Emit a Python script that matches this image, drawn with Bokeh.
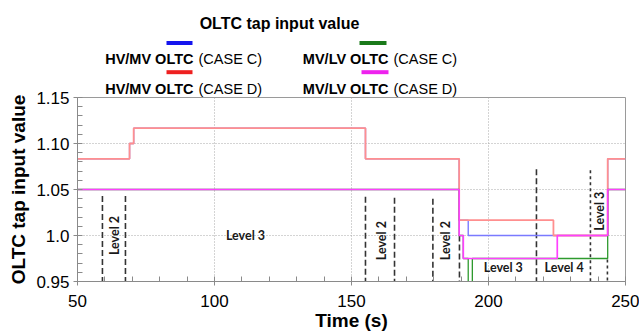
from math import pi
from bokeh.plotting import figure
from bokeh.models import Range1d, FixedTicker
from bokeh.core.properties import value
from bokeh.embed import file_html
from bokeh.resources import INLINE

# ---------------- data ----------------
hvmv_c_t = [50, 69.0, 70.5, 155.1, 189.3, 192.6, 243.5, 250]
hvmv_c_v = [1.0833, 1.1, 1.1167, 1.0833, 1.0167, 1.0, 1.0833, 1.0833]
hvmv_d_t = [50, 69.0, 70.5, 155.1, 189.3, 223.7, 243.5, 250]
hvmv_d_v = [1.0833, 1.1, 1.1167, 1.0833, 1.0167, 1.0, 1.0833, 1.0833]
mvlv_c_t = [50, 189.3, 190.8, 192.6, 194.1, 243.5, 250]
mvlv_c_v = [1.05, 1.0, 0.975, 0.9333, 0.975, 1.05, 1.05]
mvlv_d_t = [50, 189.3, 190.8, 225.1, 243.5, 250]
mvlv_d_v = [1.05, 1.0, 0.975, 1.0, 1.05, 1.05]

level_long_x = [59.1, 67.5, 155.1, 165.7, 179.7, 189.4, 217.5]
level_long_top = [1.043, 1.043, 1.042, 1.041, 1.040, 1.0, 1.072]
level_short_x = [237.2, 243.4]
level_short_top = [1.071, 0.974]

level_text = ["Level 2", "Level 3", "Level 2", "Level 2", "Level 3", "Level 4", "Level 3"]
level_tx = [63.5, 111.3, 160.8, 184.4, 205.4, 227.6, 240.6]
level_ty = [1.0, 1.0, 0.9944, 0.9944, 0.9655, 0.9655, 1.0264]
level_rot = [90, 0, 90, 90, 0, 0, 90]

x_ticks = [50, 100, 150, 200, 250]
x_minor = [50 + 10 * i for i in range(21)]
y_ticks = [0.95, 1.0, 1.05, 1.1, 1.15]
y_tick_labels = ["0.95", "1.0", "1.05", "1.10", "1.15"]
y_minor = [round(0.95 + 0.01 * i, 2) for i in range(21)]

legend_bold = ["HV/MV OLTC", "HV/MV OLTC", "MV/LV OLTC", "MV/LV OLTC"]
legend_case = ["(CASE C)", "(CASE D)", "(CASE C)", "(CASE D)"]
legend_colors = ["#1515ee", "#ee2020", "#1a7a1a", "#ee22ee"]

title_text = "OLTC tap input value"

# ---------------- layout geometry (pixels) ----------------
W, H = 639, 333
FL, FR, FT, FB = 77, 625, 97, 286
X0, X1, Y0, Y1 = 50, 250, 0.95, 1.15


def sx(px):
    return X0 + (px - FL) * (X1 - X0) / (FR - FL)


def sy(py):
    return Y1 - (py - FT) * (Y1 - Y0) / (FB - FT)


FONT = "Liberation Sans"

p = figure(width=W, height=H, x_range=Range1d(X0, X1), y_range=Range1d(Y0, Y1),
           output_backend="svg", toolbar_location=None,
           min_border_left=FL, min_border_right=W - FR,
           min_border_top=FT, min_border_bottom=H - FB)
p.background_fill_color = "white"
p.border_fill_color = "white"
p.outline_line_color = "#9a9a9a"
p.outline_line_width = 1

# axes
for ax in (p.xaxis[0], p.yaxis[0]):
    ax.axis_line_color = "#8a8a8a"
    ax.major_tick_line_color = "#8a8a8a"
    ax.minor_tick_line_color = "#8a8a8a"
    ax.major_tick_in = 0
    ax.major_tick_out = 4
    ax.minor_tick_in = 5
    ax.minor_tick_out = 0
    ax.major_label_text_font = FONT
    ax.major_label_text_font_size = "17px"
    ax.major_label_text_color = "black"
    ax.axis_label_text_font = FONT
    ax.axis_label_text_font_style = "bold"
    ax.axis_label_text_font_size = "19px"
    ax.axis_label_text_color = "black"

p.xaxis.ticker = FixedTicker(ticks=x_ticks, minor_ticks=x_minor)
p.yaxis.ticker = FixedTicker(ticks=y_ticks, minor_ticks=y_minor)
p.yaxis.major_label_overrides = {t: l for t, l in zip(y_ticks, y_tick_labels)}
p.xaxis.axis_label = "Time (s)"
p.yaxis.axis_label = "OLTC tap input value"
p.xaxis.major_label_standoff = 9
p.yaxis.major_label_standoff = 4
p.xaxis.axis_label_standoff = 0
p.yaxis.axis_label_standoff = 4

for g in (p.xgrid[0], p.ygrid[0]):
    g.grid_line_color = "#a8a8a8"
    g.grid_line_dash = "1 2"
    g.grid_line_width = 1

# level markers
p.segment(x0=level_long_x, y0=level_long_top, x1=level_long_x,
          y1=[Y0] * len(level_long_x), line_color="#333333",
          line_width=1.6, line_dash="6 3")
p.segment(x0=level_short_x, y0=level_short_top, x1=level_short_x,
          y1=[Y0] * len(level_short_x), line_color="#333333",
          line_width=1.6, line_dash="3 3")

# series
p.step(hvmv_c_t, hvmv_c_v, mode="after", line_color="#7a7aff", line_width=1.4)
p.step(hvmv_d_t, hvmv_d_v, mode="after", line_color="#ff8f8f", line_width=1.8)
p.step(mvlv_c_t, mvlv_c_v, mode="after", line_color="#2e9a2e", line_width=1.3)
p.step(mvlv_d_t, mvlv_d_v, mode="after", line_color="#ff40ff", line_width=1.7)

# level labels
p.text(x=level_tx, y=level_ty, text=level_text,
       angle=[a * pi / 180 for a in level_rot],
       text_font=value("Lato"), text_font_style="bold", text_font_size="12.5px",
       text_color="#1a1a1a", text_align="center", text_baseline="middle")

# header: title and legend (drawn outside the frame at overlay level)
p.text(x=[sx(279)], y=[sy(21)], text=[title_text], text_align="center",
       text_baseline="middle", text_font=value(FONT), text_font_style="bold",
       text_font_size="16px", text_color="black", level="overlay")

col_bold_right = [193, 193, 388, 388]
col_case_left = [198, 198, 393, 393]
row_y = [57.5, 88, 57.5, 88]
bar_x0 = [166, 166, 359, 361]
bar_x1 = [192, 192, 386, 388]
bar_y = [41, 71, 41, 71]

p.text(x=[sx(v) for v in col_bold_right], y=[sy(v) for v in row_y], text=legend_bold,
       text_align="right", text_baseline="middle", text_font=value(FONT),
       text_font_style="bold", text_font_size="14.5px", text_color="black", level="overlay")
p.text(x=[sx(v) for v in col_case_left], y=[sy(v) for v in row_y], text=legend_case,
       text_align="left", text_baseline="middle", text_font=value(FONT),
       text_font_size="14.5px", text_color="black", level="overlay")

p.segment(x0=[sx(v) for v in bar_x0], y0=[sy(v) for v in bar_y],
          x1=[sx(v) for v in bar_x1], y1=[sy(v) for v in bar_y],
          line_color=legend_colors, line_width=4, level="overlay")

open("out.html", "w").write(file_html(p, INLINE))
